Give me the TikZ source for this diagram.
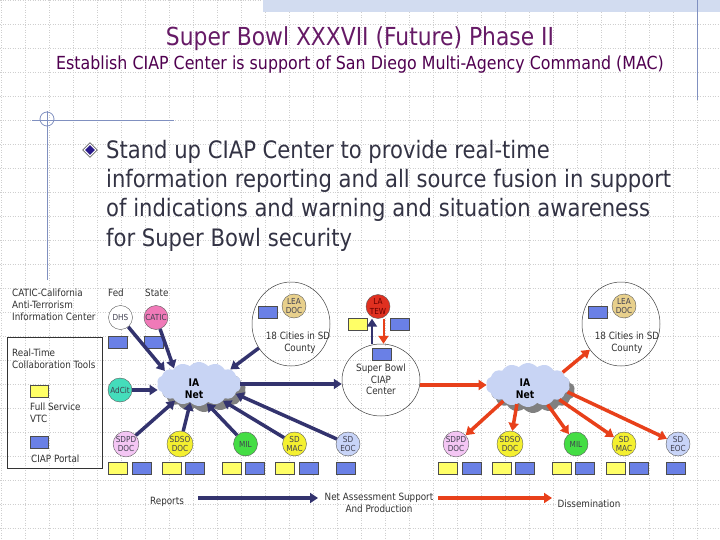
\documentclass[tikz,border=0pt]{standalone}
\usepackage{fontspec}
\setmainfont{DejaVu Sans}[FakeStretch=0.88]
\usetikzlibrary{shapes.geometric,shapes.symbols,arrows.meta,calc}
\definecolor{navyc}{HTML}{33336E}
\definecolor{redc}{HTML}{E8401A}
\definecolor{titc}{HTML}{661A66}
\definecolor{subc}{HTML}{500050}
\definecolor{bodyc}{HTML}{333344}
\definecolor{smallc}{HTML}{333333}
\definecolor{lblc}{HTML}{404050}
\definecolor{gridc}{HTML}{CFCFCF}
\definecolor{barc}{HTML}{D2DCF0}
\definecolor{tmplc}{HTML}{8090C0}
\definecolor{yelc}{HTML}{FFFF66}
\definecolor{bluc}{HTML}{6A80E6}
\definecolor{pinkc}{HTML}{F07AB8}
\definecolor{tealc}{HTML}{44DDBB}
\definecolor{lilac}{HTML}{F4C6F4}
\definecolor{ycirc}{HTML}{F4F030}
\definecolor{greenc}{HTML}{44DD44}
\definecolor{lavc}{HTML}{C8D4F8}
\definecolor{tanc}{HTML}{E8D08C}
\definecolor{redn}{HTML}{E03020}
\definecolor{cloudc}{HTML}{C8D4F4}
\definecolor{shadc}{HTML}{808080}
\definecolor{bulc}{HTML}{2A1A8A}
\newcommand{\myfs}[2]{\fontsize{#1}{#2}\selectfont}
\begin{document}
\begin{tikzpicture}[x=1pt,y=-1pt,
  gridl/.style={gridc, dotted, line width=0.5pt},
  tmpl/.style={tmplc, line width=0.8pt},
  circ/.style={circle, draw=black!65, line width=0.4pt, minimum size=24pt, inner sep=0pt,
    align=center, text=lblc, font=\myfs{8.3}{9.6}},
  sq/.style={draw=black!70, line width=0.4pt, minimum width=19pt, minimum height=12pt, inner sep=0pt},
  ysq/.style={sq, fill=yelc},
  bsq/.style={sq, fill=bluc},
  ring/.style={ellipse, draw=black!75, line width=0.5pt, inner sep=0pt},
  lbl/.style={text=smallc, font=\myfs{10}{12}, inner sep=0pt},
  narr/.style={navyc, line width=3.5pt, -{Triangle[length=8pt,width=10pt]}},
  rarr/.style={redc, line width=3.5pt, -{Triangle[length=8pt,width=10pt]}},
  cloudsh/.style={cloud, cloud puffs=14, cloud puff arc=100, aspect=1.9,
    minimum width=84pt, minimum height=44pt, inner sep=0pt, draw=none}
]
\useasboundingbox (0,0) rectangle (720,540);
\fill[white] (0,0) rectangle (720,540);
% background grid
\foreach \gx in {1,25,...,720} \draw[gridl] (\gx,0) -- (\gx,540);
\foreach \gy in {0,24,...,540} \draw[gridl] (0,\gy) -- (720,\gy);
% template decorations
\fill[barc] (263,0) rectangle (720,12);
\draw[tmpl] (697,0) -- (697,100);
\draw[tmpl] (32,120) -- (174,120);
\draw[tmpl] (47,111) -- (47,280);
\draw[tmpl] (47,119) circle [radius=7];

% titles
\node[anchor=base, text=titc, font=\myfs{24.8}{28}, inner sep=0pt] (title) at (360,46) {Super Bowl XXXVII (Future) Phase II};
\node[anchor=base, text=subc, font=\myfs{18}{20}, inner sep=0pt] (subtitle) at (360,70) {Establish CIAP Center is support of San Diego Multi-Agency Command (MAC)};

% bullet
\node[diamond, draw=black, fill=white, minimum size=15pt, inner sep=0pt] (bul) at (90,150) {};
\node[diamond, fill=bulc, minimum size=10pt, inner sep=0pt] (bulin) at (90,150) {};
\begin{scope}[every node/.style={anchor=base west, text=bodyc, font=\myfs{24}{28}, inner sep=0pt}]
\node (b1) at (106,159) {Stand up CIAP Center to provide real-time};
\node (b2) at (106,188) {information reporting and all source fusion in support};
\node (b3) at (106,217) {of indications and warning and situation awareness};
\node (b4) at (106,246) {for Super Bowl security};
\end{scope}

% left texts
\begin{scope}[every node/.style={lbl, anchor=base west}]
\node (t1) at (12,296) {CATIC-California};
\node (t2) at (12,308) {Anti-Terrorism};
\node (t3) at (12,320) {Information Center};
\node (fed) at (108,296) {Fed};
\node (state) at (145,296) {State};
\node (rt1) at (12,356) {Real-Time};
\node (rt2) at (12,368) {Collaboration Tools};
\node (fs1) at (30,410) {Full Service};
\node (fs2) at (30,422) {VTC};
\node (cp) at (31,462) {CIAP Portal};
\end{scope}
\draw[black!80, line width=0.5pt] (7,337) rectangle (102,468);
\node[ysq, minimum width=18pt] (legy) at (39.5,391) {};
\node[bsq, minimum width=18pt] (legb) at (39.5,442.5) {};

% 18 cities rings
\node[ring, minimum width=78pt, minimum height=84pt] (citiesL) at (291,324) {};
\node[ring, minimum width=78pt, minimum height=84pt] (citiesR) at (621,324) {};
\node[ring, minimum width=78pt, minimum height=72pt] (ciap) at (381,380) {};
\begin{scope}[every node/.style={lbl, anchor=base}]
\node (cl1) at (298,339) {18 Cities in SD};
\node (cl2) at (300,351) {County};
\node (cr1) at (627,339) {18 Cities in SD};
\node (cr2) at (627,351) {County};
\node (cc1) at (381,371) {Super Bowl};
\node (cc2) at (381,383) {CIAP};
\node (cc3) at (381,394.5) {Center};
\node (rep) at (167,504) {Reports};
\node (na1) at (379,500) {Net Assessment Support};
\node (na2) at (379,512) {And Production};
\node (dis) at (589,507) {Dissemination};
\end{scope}

% clouds
\node[cloudsh, fill=shadc] (cLs) at (204,390) {};
\node[cloudsh, fill=cloudc] (cL) at (199,384) {};
\node[cloudsh, fill=shadc] (cRs) at (533,391) {};
\node[cloudsh, fill=cloudc] (cR) at (528,385) {};
\node[align=center, font=\bfseries\myfs{10.5}{12}, text=black, inner sep=0pt] (cLt) at (194,389) {IA\\Net};
\node[align=center, font=\bfseries\myfs{10.5}{12}, text=black, inner sep=0pt] (cRt) at (525,388.5) {IA\\Net};

% circle nodes
\node[circ, fill=white] (dhs) at (120.5,317.5) {DHS};
\node[circ, fill=pinkc] (catic) at (156,317.5) {CATIC};
\node[circ, fill=tealc] (adcit) at (120,390) {AdCit};
\node[circ, fill=tanc] (leaL) at (294,306) {LEA\\DOC};
\node[circ, fill=tanc] (leaR) at (624,306) {LEA\\DOC};
\node[circ, fill=redn, text=black!60!red] (latew) at (378,306.5) {LA\\TEW};
\node[circ, fill=lilac] (sdpdL) at (126,444) {SDPD\\DOC};
\node[circ, fill=ycirc] (sdsoL) at (180,444) {SDSO\\DOC};
\node[circ, fill=greenc] (milL) at (245.5,444) {MIL};
\node[circ, fill=ycirc] (sdmacL) at (294.5,444) {SD\\MAC};
\node[circ, fill=lavc] (sdeocL) at (348,444) {SD\\EOC};
\node[circ, fill=lilac] (sdpdR) at (456,444) {SDPD\\DOC};
\node[circ, fill=ycirc] (sdsoR) at (510,444) {SDSO\\DOC};
\node[circ, fill=greenc] (milR) at (576,444) {MIL};
\node[circ, fill=ycirc] (sdmacR) at (624,444) {SD\\MAC};
\node[circ, fill=lavc] (sdeocR) at (678,444) {SD\\EOC};

% squares
\node[bsq] (qdhs) at (117.5,342) {};
\node[bsq] (qcatic) at (153.5,342) {};
\node[bsq] (qleaL) at (267.5,312.5) {};
\node[bsq] (qleaR) at (597.5,312) {};
\node[ysq] (qtewy) at (357.5,324) {};
\node[bsq] (qtewb) at (400,324) {};
\node[bsq] (qciap) at (381.5,354) {};
\foreach \nm/\xx/\st in {l1/117.5/ysq, l2/141.5/bsq, l3/171.5/ysq, l4/195/bsq, l5/231.5/ysq, l6/255/bsq, l7/285/ysq, l8/309/bsq, l9/345.5/bsq,
  r1/447.5/ysq, r2/471.5/bsq, r3/501.5/ysq, r4/525/bsq, r5/561.5/ysq, r6/585/bsq, r7/615.5/ysq, r8/639/bsq, r9/676/bsq}
  \node[\st] (q\nm) at (\xx,468) {};

% navy arrows into left cloud
\draw[narr] (dhs) -- (cL.159);
\draw[narr] (catic) -- (cL.148);
\draw[narr] (adcit) -- (adcit -| cL.west);
\draw[narr] (sdpdL) -- (cL.215);
\draw[narr] (sdsoL) -- (cL.245);
\draw[narr] (milL) -- (cL.292);
\draw[narr] (sdmacL) -- (cL.325);
\draw[narr] (sdeocL) -- (cL.345);
\draw[narr] (citiesL) -- (cL.25);
\draw[narr] (cL.east) -- (cL.east -| ciap.west);
\coordinate (nv) at (372,0);
\coordinate (rd) at (383.5,0);
\draw[narr, line width=2.5pt] (ciap.north -| nv) -- (latew.south -| nv);
\draw[rarr, line width=2pt] (latew.south -| rd) -- (ciap.north -| rd);
% red arrows out of right cloud
\draw[rarr] (ciap.east |- cR.west) -- (cR.west);
\draw[rarr] (cR.20) -- (citiesR);
\draw[rarr] (cR.213) -- (sdpdR);
\draw[rarr] (cR.240) -- (sdsoR);
\draw[rarr] (cR.315) -- (milR);
\draw[rarr] (cR.335) -- (sdmacR);
\draw[rarr] (cR.350) -- (sdeocR);

% bottom arrows
\coordinate (a1) at (198,498);
\coordinate (a2) at (318,498);
\coordinate (a3) at (438,498);
\coordinate (a4) at (552,498);
\draw[narr] (a1) -- (a2);
\draw[rarr] (a3) -- (a4);
\end{tikzpicture}
\end{document}
